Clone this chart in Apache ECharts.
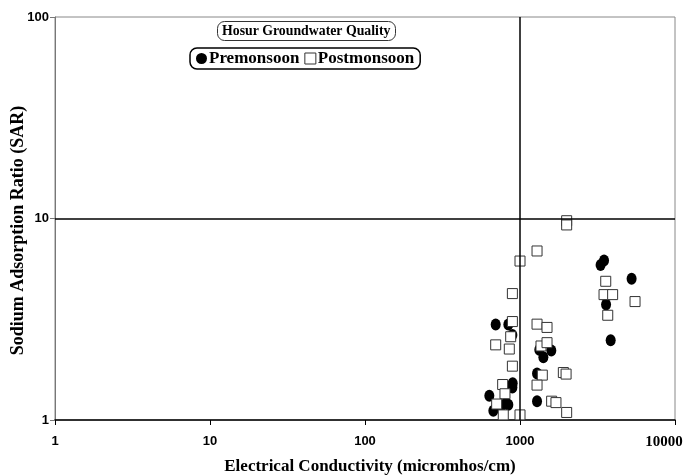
<!DOCTYPE html>
<html>
<head>
<meta charset="utf-8">
<script src="https://cdn.jsdelivr.net/npm/echarts@6/dist/echarts.min.js"></script>
<style>
  html, body { margin: 0; padding: 0; background: #fff; }
  #chart { width: 683px; height: 475px; }
</style>
</head>
<body>
<div id="chart"></div>
<script>
// Premonsoon samples (EC in micromhos/cm, SAR)
const preEC  = [3311, 3485, 5248, 3591, 3846, 697, 841, 893, 1332, 1415, 1592, 1288, 897, 893, 634, 841, 813, 673, 1288, 760]
const preSAR = [5.88, 6.18, 5.03, 3.74, 2.49, 2.98, 2.98, 2.64, 2.23, 2.05, 2.21, 1.70, 1.52, 1.45, 1.32, 1.19, 1.21, 1.11, 1.24, 1.18]

// Postmonsoon samples
const postEC  = [2000, 2000, 1288, 1000, 893, 3574, 3485, 3959, 5523, 3682, 893, 871, 697, 853, 1288, 1494, 1366, 1494, 893, 1904, 1983, 1393, 1288, 773, 800, 707, 1600, 1706, 2000, 1000, 780]
const postSAR = [9.75, 9.29, 6.90, 6.15, 4.24, 4.88, 4.19, 4.19, 3.87, 3.31, 3.08, 2.59, 2.36, 2.25, 2.99, 2.88, 2.33, 2.42, 1.85, 1.72, 1.69, 1.67, 1.49, 1.50, 1.35, 1.20, 1.24, 1.22, 1.09, 1.06, 1.06]

// reference lines
const ecLimit = 1000
const sarLimit = 10

const serif = 'Liberation Serif'
const sans = 'Liberation Sans'
const ellipse = 'path://M10,0A10,10,0,1,1,10,20A10,10,0,1,1,10,0Z'

const zip = (xs, ys) => xs.map((x, i) => [x, ys[i]])

const chart = echarts.init(document.getElementById('chart'), null, { renderer: 'canvas' })

chart.setOption({
  animation: false,
  backgroundColor: '#fff',
  title: {
    text: 'Hosur Groundwater Quality',
    left: 217,
    top: 21,
    padding: [3, 5, 3, 5],
    borderColor: '#333',
    borderWidth: 1,
    borderRadius: 7,
    textStyle: { fontFamily: serif, fontSize: 13.8, fontWeight: 'bold', color: '#000' }
  },
  legend: {
    left: 190,
    top: 48,
    padding: [2, 6, 2, 6],
    itemGap: 5,
    itemWidth: 11,
    itemHeight: 11,
    borderColor: '#000',
    borderWidth: 1.5,
    borderRadius: 7,
    textStyle: { fontFamily: serif, fontSize: 17, fontWeight: 'bold', color: '#000', padding: [0, 0, 0, -3] },
    data: [
      { name: 'Premonsoon', icon: ellipse, itemStyle: { color: '#000', opacity: 1 } },
      { name: 'Postmonsoon', icon: 'rect', itemStyle: { color: '#fff', borderColor: '#333', borderWidth: 1, opacity: 1 } }
    ]
  },
  grid: {
    left: 55,
    right: 8,
    top: 17,
    bottom: 55,
    outerBoundsMode: 'none',
    containLabel: false,
    show: true,
    borderColor: '#888',
    borderWidth: 1
  },
  xAxis: {
    type: 'log',
    logBase: 10,
    min: 1,
    max: 10000,
    name: 'Electrical Conductivity (micromhos/cm)',
    nameLocation: 'middle',
    nameGap: 38,
    nameMoveOverlap: false,
    nameTextStyle: { fontFamily: serif, fontSize: 17, fontWeight: 'bold', color: '#000', padding: [0, 0, 0, 10] },
    axisLine: { lineStyle: { color: '#000', width: 1.5 } },
    axisTick: { show: true, length: 5, lineStyle: { color: '#000' } },
    axisLabel: {
      fontFamily: sans, fontSize: 13, fontWeight: 'bold', color: '#000', margin: 15,
      formatter: v => {
        const s = String(Math.round(v))
        return v >= 10000 ? '{last|' + s + '}' : s
      },
      rich: {
        last: { fontFamily: serif, fontSize: 15, fontWeight: 'bold', color: '#000', padding: [0, 22, 0, 0] }
      }
    },
    splitLine: { show: false }
  },
  yAxis: {
    type: 'log',
    logBase: 10,
    min: 1,
    max: 100,
    name: 'Sodium Adsorption Ratio (SAR)',
    nameLocation: 'middle',
    nameGap: 28,
    nameMoveOverlap: false,
    nameTextStyle: { fontFamily: serif, fontSize: 18, fontWeight: 'bold', color: '#000', padding: [0, 24, 0, 0] },
    axisLine: { lineStyle: { color: '#777', width: 1 } },
    axisTick: { show: true, length: 5, lineStyle: { color: '#777' } },
    axisLabel: {
      fontFamily: sans, fontSize: 13, fontWeight: 'bold', color: '#000', margin: 6,
      formatter: v => String(Math.round(v))
    },
    splitLine: { show: false }
  },
  series: [
    {
      name: 'Premonsoon',
      type: 'scatter',
      symbol: ellipse,
      symbolSize: [10, 12],
      itemStyle: { color: '#000', opacity: 1 },
      data: zip(preEC, preSAR),
      markLine: {
        silent: true,
        symbol: 'none',
        label: { show: false },
        lineStyle: { color: '#000', type: 'solid', width: 1.5 },
        data: [{ xAxis: ecLimit }, { yAxis: sarLimit }]
      },
      z: 2
    },
    {
      name: 'Postmonsoon',
      type: 'scatter',
      symbol: 'rect',
      symbolSize: 10,
      itemStyle: { color: '#fff', borderColor: '#333', borderWidth: 1, opacity: 1 },
      data: zip(postEC, postSAR),
      z: 3
    }
  ]
})
</script>
</body>
</html>
